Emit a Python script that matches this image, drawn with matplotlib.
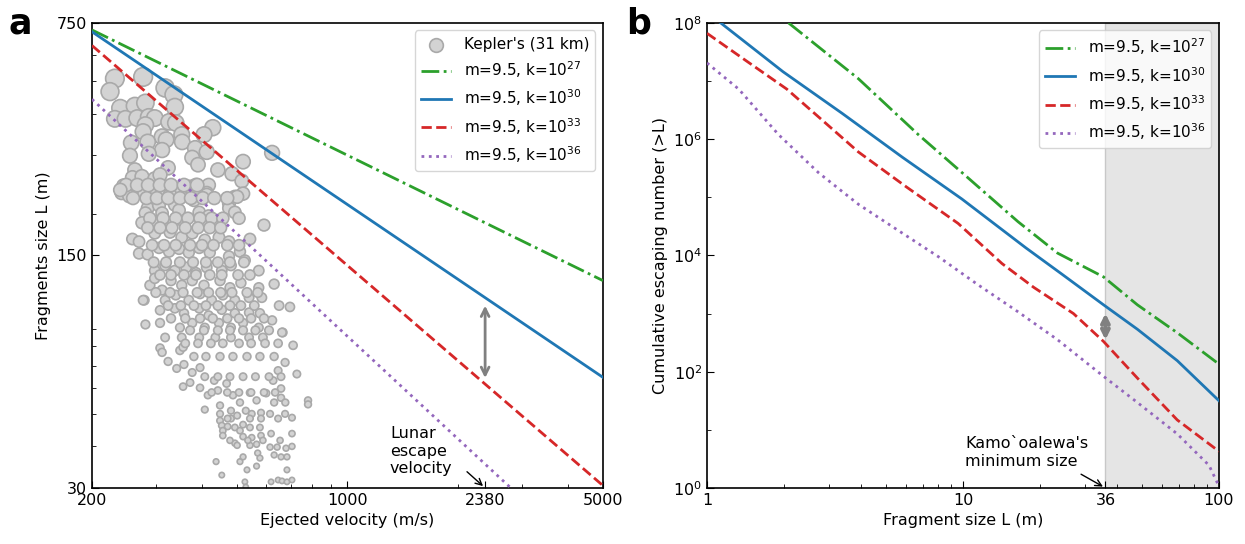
import matplotlib
matplotlib.use("Agg")
import matplotlib.pyplot as plt
from matplotlib.ticker import NullFormatter, LogLocator, FixedLocator
import numpy as np

# ---- panel a: Kepler's crater fragments (velocity m/s, size m) ----
kep_v = [231, 276, 224, 317, 335, 337, 239, 262, 280, 231, 247, 266, 286, 297, 325, 339,
         280, 428, 405, 352, 276, 311, 319, 256, 284, 353, 383, 412, 311, 254, 286, 622,
         376, 390, 518, 442, 483, 514, 262, 323, 258, 274, 297, 307, 244, 241, 253, 266,
         280, 295, 311, 329, 352, 371, 385, 417, 390, 412, 492, 518, 474,
         241, 253, 278, 327, 412, 499, 284, 305, 337, 380, 474, 492, 280, 311, 346, 393,
         417, 274, 295, 325, 357, 400, 591, 258, 269, 297, 327, 352, 376, 407, 445, 474,
         541, 269, 284, 305, 325, 346, 368, 393, 420, 474, 508, 524, 297, 317, 337, 362,
         385, 412, 453, 480, 572, 288, 297, 329, 352, 376, 405, 448, 477, 511, 572, 630,
         278, 311, 317, 339, 368, 395, 425, 456, 492, 538, 583, 650, 696, 307, 337, 357,
         393, 417, 453, 492, 538, 576, 280, 307, 348, 376, 407, 445, 480, 518, 572, 622,
         665, 317, 352, 393, 435, 480, 538, 587,
         307, 311, 348, 355, 323, 341, 357, 376, 395, 355, 371, 395, 415, 432, 442, 467,
         486, 508, 541, 564, 599, 630, 658, 676, 727, 710, 662, 675, 646, 626, 658, 780,
         780, 407, 448, 448, 480, 480, 499, 527, 547, 580, 614, 675, 705, 448, 453, 470,
         492, 508, 518, 541, 576, 456, 456, 518, 547, 580, 618, 705, 492, 499, 541, 564,
         614, 642, 679, 705, 568, 576, 630, 658, 683, 437, 508, 518, 564, 531, 683, 453,
         524, 618, 646, 662, 683, 705, 527]
kep_L = [510, 516, 466, 478, 456, 419, 416, 422, 431, 386, 386, 388, 391, 388, 378, 375,
         370, 363, 346, 346, 353, 341, 334, 327, 329, 329, 315, 307, 311, 299, 303, 305,
         295, 281, 287, 271, 264, 251, 271, 275, 257, 259, 255, 262, 243, 233, 228, 239,
         231, 239, 233, 231, 234, 241, 244, 244, 228, 231, 225, 230, 215,
         231, 226, 230, 228, 228, 225, 208, 212, 213, 220, 208, 202, 201, 201, 205, 202,
         197, 188, 189, 188, 189, 188, 185, 168, 165, 175, 176, 170, 175, 167, 170, 165,
         168, 152, 151, 158, 154, 157, 153, 158, 153, 149, 154, 145, 135, 140, 135, 138,
         133, 138, 135, 140, 135, 122, 128, 126, 122, 126, 122, 126, 120, 124, 120, 123,
         110, 118, 110, 114, 110, 115, 110, 114, 110, 112, 112, 106, 105, 102.6, 104, 100.5,
         104, 99, 103, 100.5, 101, 100.5, 93, 94, 91, 94, 91, 94, 91, 94, 91, 95.7,
         88, 85, 85, 85, 85, 85, 85, 85,
         79, 76.7, 77.7, 79.5, 72, 68.6, 70.5, 66.7, 69, 60.5, 62.2, 60, 57, 63.1, 58.9, 61.8,
         57, 54.2, 58, 55, 57.8, 54.2, 56, 54.2, 66, 80.5, 88, 71.5, 67.6, 63.1, 59.7, 55,
         53.5, 51.6, 53.1, 50.1, 51.2, 48.5, 49.5, 51.2, 50.1, 50.5, 50.1, 50.1, 48.8, 47.8, 46.2, 45.9,
         45.6, 44.6, 46.5, 45.6, 45.6, 44.6, 43.1, 42.8, 42.5, 43.1, 43.7, 43.7, 40.9, 40.3, 40.3, 40.6,
         39.8, 39.8, 39.5, 40, 38.2, 36.9, 37.7, 37.2, 37.2, 36, 36, 37.2, 34.9, 34, 34, 32.8,
         31.3, 31.3, 31.7, 31.5, 31.3, 31.7, 30.2]

# extra fragments read from the dense core of the cloud
core_v = [248, 266, 285, 307, 329, 357, 388,
          259, 282, 301, 323, 348, 373, 402, 432, 469,
          288, 313, 339, 366, 395, 425, 456, 505,
          284, 307, 331, 360, 390, 420, 450,
          292, 315, 339, 371, 400, 430, 469, 505,
          295, 319, 348, 378, 410, 442, 477, 521,
          307, 329, 357, 385, 420, 453, 502, 541,
          299, 327, 355, 388, 417, 450, 483, 531, 568,
          323, 350, 380, 410, 442, 477, 511, 556,
          329, 360, 395, 428, 469, 505, 545, 591,
          371, 405, 442, 477, 518, 560, 610,
          360, 390, 423, 456, 505, 545, 595, 646,
          380, 410, 448, 486, 531, 576, 630,
          407, 442, 477, 518, 560, 610, 658,
          425, 469, 505, 545, 591, 634,
          470, 541, 580, 646,
          477, 534, 587, 654,
          276, 239]
core_L = [244] * 7 + [223] * 9 + [194] * 8 + [181.6] * 7 + [161] * 8 + [143] * 8 + \
         [131] * 8 + [116] * 9 + [106] * 8 + [97] * 8 + [89.3] * 7 + [81.6] * 8 + \
         [74.5] * 7 + [64.8] * 7 + [58.1] * 6 + [48.5] * 4 + [41.7] * 4 + [110, 236]

# model lines in panel a (endpoints at 200 and 5000 m/s)
vel_ends = [200, 5000]
L_k27 = [714, 126]
L_k30 = [705, 64.5]
L_k33 = [641, 30.5]
L_k36 = [442, 16.6]

# ---- panel b: cumulative escaping number ----
b_k27_L = [2.08, 3.9, 6.68, 10.3, 16.4, 23.4, 35.4, 48, 68.7, 100]
b_k27_logN = [8.0, 7.04, 6.08, 5.36, 4.58, 4.04, 3.63, 3.15, 2.67, 2.13]
b_k30_L = [1.13, 1.98, 3.38, 5.79, 9.9, 17.6, 24.3, 35.4, 48, 68.7, 100]
b_k30_logN = [8.0, 7.16, 6.44, 5.69, 4.97, 4.13, 3.68, 3.15, 2.73, 2.19, 1.50]
b_k33_L = [1.0, 1.43, 2.05, 2.73, 3.9, 6.0, 9.57, 14.2, 18.9, 27, 35.4, 48, 68.7, 100]
b_k33_logN = [7.82, 7.34, 6.86, 6.38, 5.78, 5.18, 4.55, 3.86, 3.45, 3.0, 2.52, 1.89, 1.17, 0.63]
b_k36_L = [1.0, 1.33, 1.9, 2.73, 3.9, 5.58, 8.0, 11.4, 16.4, 23.4, 35.4, 48, 68.7, 91.4, 100]
b_k36_logN = [7.31, 6.86, 6.08, 5.42, 4.88, 4.43, 3.98, 3.50, 3.03, 2.55, 1.92, 1.47, 0.93, 0.39, 0.03]

labels = [r'm=9.5, k=10$^{27}$', r'm=9.5, k=10$^{30}$', r'm=9.5, k=10$^{33}$', r'm=9.5, k=10$^{36}$']
colors = ['#2ca02c', '#1f77b4', '#d62728', '#9467bd']
styles = ['-.', '-', '--', ':']

plt.rcParams['font.family'] = ['DejaVu Sans']
plt.rcParams['font.size'] = 11.5
plt.rcParams['axes.linewidth'] = 1.2

fig = plt.figure(figsize=(12.45, 5.44), dpi=100)
ax1 = fig.add_axes([0.0739, 0.103, 0.4104, 0.855])
ax2 = fig.add_axes([0.5679, 0.103, 0.4112, 0.855])

# panel a
all_v = kep_v + core_v
all_L = np.array(kep_L + core_L)
sizes = 16 * (all_L / 35.0) ** 0.9
ax1.scatter(all_v, all_L, s=sizes, facecolor='#d3d3d3', edgecolor='#a9a9a9',
            linewidth=1.2, zorder=2, label="Kepler's (31 km)")
for Ls, c, ls, lab in zip([L_k27, L_k30, L_k33, L_k36], colors, styles, labels):
    ax1.plot(vel_ends, Ls, color=c, ls=ls, lw=2, zorder=3, label=lab)
ax1.set_xscale('log')
ax1.set_yscale('log')
ax1.set_xlim(200, 5000)
ax1.set_ylim(30, 750)
ax1.xaxis.set_major_locator(FixedLocator([200, 1000, 2380, 5000]))
ax1.set_xticklabels(['200', '1000', '2380', '5000'])
ax1.yaxis.set_major_locator(FixedLocator([30, 150, 750]))
ax1.set_yticklabels(['30', '150', '750'])
ax1.xaxis.set_minor_formatter(NullFormatter())
ax1.yaxis.set_minor_formatter(NullFormatter())
ax1.set_xlabel('Ejected velocity (m/s)')
ax1.set_ylabel('Fragments size L (m)')
ax1.annotate('', xy=(2380, 63), xytext=(2380, 108),
             arrowprops=dict(arrowstyle='<->', color='gray', lw=2, mutation_scale=14), zorder=4)
ax1.text(1307, 32.6, 'Lunar\nescape\nvelocity', ha='left', va='bottom', fontsize=11.5)
ax1.annotate('', xy=(2380, 30), xytext=(2096, 34),
             arrowprops=dict(arrowstyle='->', color='black', lw=1), annotation_clip=False)
ax1.legend(loc='upper right', fontsize=11, markerscale=1.0)

# panel b
ax2.axvspan(36, 100, facecolor='#e5e5e5', edgecolor='#c8c8c8', lw=1, zorder=0)
for Lx, lgN, c, ls, lab in zip([b_k27_L, b_k30_L, b_k33_L, b_k36_L],
                               [b_k27_logN, b_k30_logN, b_k33_logN, b_k36_logN],
                               colors, styles, labels):
    ax2.plot(Lx, 10 ** np.array(lgN), color=c, ls=ls, lw=2, zorder=3, label=lab)
ax2.set_xscale('log')
ax2.set_yscale('log')
ax2.set_xlim(1, 100)
ax2.set_ylim(1, 1e8)
ax2.xaxis.set_major_locator(FixedLocator([1, 10, 36, 100]))
ax2.set_xticklabels(['1', '10', '36', '100'])
ax2.xaxis.set_minor_locator(LogLocator(base=10, subs=np.arange(2, 10)))
ax2.xaxis.set_minor_formatter(NullFormatter())
ax2.yaxis.set_major_locator(FixedLocator([1e0, 1e2, 1e4, 1e6, 1e8]))
ax2.set_yticklabels([r'$10^{0}$', r'$10^{2}$', r'$10^{4}$', r'$10^{6}$', r'$10^{8}$'])
ax2.yaxis.set_minor_locator(FixedLocator([1e1, 1e3, 1e5, 1e7]))
ax2.yaxis.set_minor_formatter(NullFormatter())
ax2.set_xlabel('Fragment size L (m)')
ax2.set_ylabel('Cumulative escaping number (>L)')
ax2.annotate('', xy=(36, 10 ** 2.5), xytext=(36, 10 ** 3.05),
             arrowprops=dict(arrowstyle='<->', color='gray', lw=3, mutation_scale=12), zorder=4)
ax2.text(10.2, 10 ** 0.33, "Kamo`oalewa's\nminimum size", ha='left', va='bottom', fontsize=11.5)
ax2.annotate('', xy=(36, 1), xytext=(28.3, 10 ** 0.26),
             arrowprops=dict(arrowstyle='->', color='black', lw=1), annotation_clip=False)
ax2.legend(loc='upper right', fontsize=11)

for ax in (ax1, ax2):
    ax.tick_params(which='both', direction='in')
    ax.tick_params(which='major', length=5)
    ax.tick_params(which='minor', length=3)

fig.text(0.007, 1 - 33 / 544, 'a', fontsize=25, fontweight='bold', va='baseline')
fig.text(0.503, 1 - 33 / 544, 'b', fontsize=25, fontweight='bold', va='baseline')

plt.savefig('out.png', dpi=100)
